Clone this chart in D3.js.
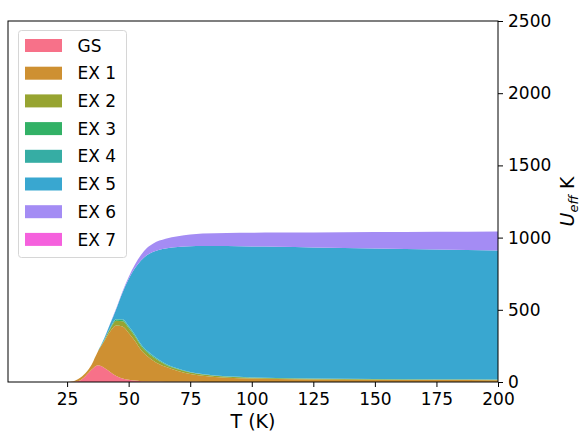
<!DOCTYPE html>
<html lang="en">
<head>
    <meta charset="UTF-8">
    <title>Ueff stackplot</title>
    <style>
        body { margin: 0; background: #fff; }
        text { font-family: "DejaVu Sans", sans-serif; fill: #000; }
        .tick text { font-size: 17px; }
        .domain { display: none; }
    </style>
</head>
<body>
    <script src="https://d3js.org/d3.v7.min.js"></script>
    <script>
        // temperature grid (K)
        let temps = [1, 20, 25, 27.5, 30, 32.5, 35, 37.5, 40, 42.5, 45, 47.5, 50, 52.5, 55, 57.5, 60,
            65, 70, 75, 80, 90, 100, 110, 125, 150, 175, 200];

        let labels = ['GS', 'EX 1', 'EX 2', 'EX 3', 'EX 4', 'EX 5', 'EX 6', 'EX 7'];
        let colors = ['#f77189', '#ce9032', '#97a431', '#32b166', '#36ada4', '#39a7d0', '#a48cf4', '#f561dd'];

        // contributions to Ueff (K)
        let gs = [0, 0, 0, 2, 9, 42, 86, 116, 99, 70, 42, 25, 15, 10, 6, 4, 3, 2, 1, 1, 0, 0, 0, 0, 0, 0, 0, 0];
        let ex1 = [0, 0, 0, 3, 17, 21, 36, 96, 181, 280, 350, 360, 325, 275, 216, 176, 145, 103, 76, 55, 44, 30, 24, 21, 18, 15, 13, 12];
        let ex2 = [0, 0, 0, 0, 0, 0, 0, 0, 6, 18, 32, 35, 34, 31, 28, 25, 24, 15, 11, 9, 8, 6, 6, 5, 5, 4, 4, 4];
        let ex3 = [0, 0, 0, 0, 0, 0, 0, 0, 1, 5, 9, 10, 9, 9, 8, 7, 7, 5, 3, 3, 2, 2, 1, 1, 1, 1, 1, 1];
        let ex4 = [0, 0, 0, 0, 0, 0, 0, 0, 1, 2, 4, 5, 5, 4, 4, 4, 3, 2, 2, 1, 1, 1, 1, 1, 1, 1, 1, 1];
        let ex5 = [0, 0, 0, 0, 0, 0, 0, 0, 11, 28, 71, 183, 325, 458, 580, 664, 720, 798, 842, 871, 887, 902, 907, 909, 907, 904, 899, 893];
        let ex6 = [0, 0, 0, 0, 0, 0, 0, 0, 1, 2, 4, 8, 15, 25, 38, 50, 58, 67, 75, 81, 86, 91, 95, 98, 104, 113, 122, 131];
        let ex7 = temps.map(() => 0);

        let series = [gs, ex1, ex2, ex3, ex4, ex5, ex6, ex7];

        let xTicks = [25, 50, 75, 100, 125, 150, 175, 200];
        let yTicks = [0, 500, 1000, 1500, 2000, 2500];

        let W = 580, H = 434;
        let m = { t: 21, b: 52, l: 8, r: 82 };
        let w = W - m.l - m.r;
        let h = H - m.t - m.b;

        let svg = d3.select('body').append('svg')
            .attr('width', W)
            .attr('height', H);

        let g = svg.append('g').attr('transform', `translate(${m.l},${m.t})`);

        let x = d3.scaleLinear().domain([1, 200]).range([0, w]);
        let y = d3.scaleLinear().domain([0, 2500]).range([h, 0]);

        let rows = temps.map((t, i) => {
            let r = { t: t };
            labels.forEach((l, k) => r[l] = series[k][i]);
            return r;
        });

        let stack = d3.stack().keys(labels)(rows);

        let area = d3.area()
            .curve(d3.curveMonotoneX)
            .x(d => x(d.data.t))
            .y0(d => y(d[0]))
            .y1(d => y(d[1]));

        g.selectAll('.layer')
            .data(stack)
            .enter().append('path')
            .attr('class', 'layer')
            .attr('fill', (d, i) => colors[i])
            .attr('d', area);

        // axes
        g.append('g')
            .attr('transform', `translate(0,${h})`)
            .call(d3.axisBottom(x).tickValues(xTicks).tickSize(5).tickPadding(6).tickFormat(d3.format('d')))
            .call(a => a.selectAll('line').attr('stroke', '#000'));

        g.append('g')
            .attr('transform', `translate(${w},0)`)
            .call(d3.axisRight(y).tickValues(yTicks).tickSize(5).tickPadding(5).tickFormat(d3.format('d')))
            .call(a => a.selectAll('line').attr('stroke', '#000'));

        g.append('rect')
            .attr('width', w)
            .attr('height', h)
            .attr('fill', 'none')
            .attr('stroke', '#000')
            .attr('stroke-width', 1);

        // axis labels
        svg.append('text')
            .attr('x', m.l + w / 2)
            .attr('y', H - 6)
            .attr('text-anchor', 'middle')
            .style('font-size', '19px')
            .text('T (K)');

        let yl = svg.append('text')
            .attr('transform', `translate(574,${m.t + h / 2}) rotate(-90)`)
            .attr('text-anchor', 'middle')
            .style('font-size', '19px');
        yl.append('tspan').style('font-style', 'italic').text('U');
        yl.append('tspan').style('font-style', 'italic').style('font-size', '13px')
            .attr('dy', 4).text('eff');
        yl.append('tspan').attr('dy', -4).text(' K');

        // legend
        let lg = g.append('g').attr('transform', 'translate(10.5,9.5)');
        lg.append('rect')
            .attr('width', 108)
            .attr('height', 227)
            .attr('rx', 3)
            .attr('fill', '#fff')
            .attr('fill-opacity', 0.8)
            .attr('stroke', '#d6d6d6');

        let items = lg.selectAll('.item')
            .data(labels)
            .enter().append('g')
            .attr('transform', (d, i) => `translate(0,${15 + i * 27.7})`);

        items.append('rect')
            .attr('x', 6.5)
            .attr('y', -6.5)
            .attr('width', 37)
            .attr('height', 13)
            .attr('fill', (d, i) => colors[i]);

        items.append('text')
            .attr('x', 59)
            .attr('dy', '0.36em')
            .style('font-size', '17px')
            .text(d => d);
    </script>
</body>
</html>
